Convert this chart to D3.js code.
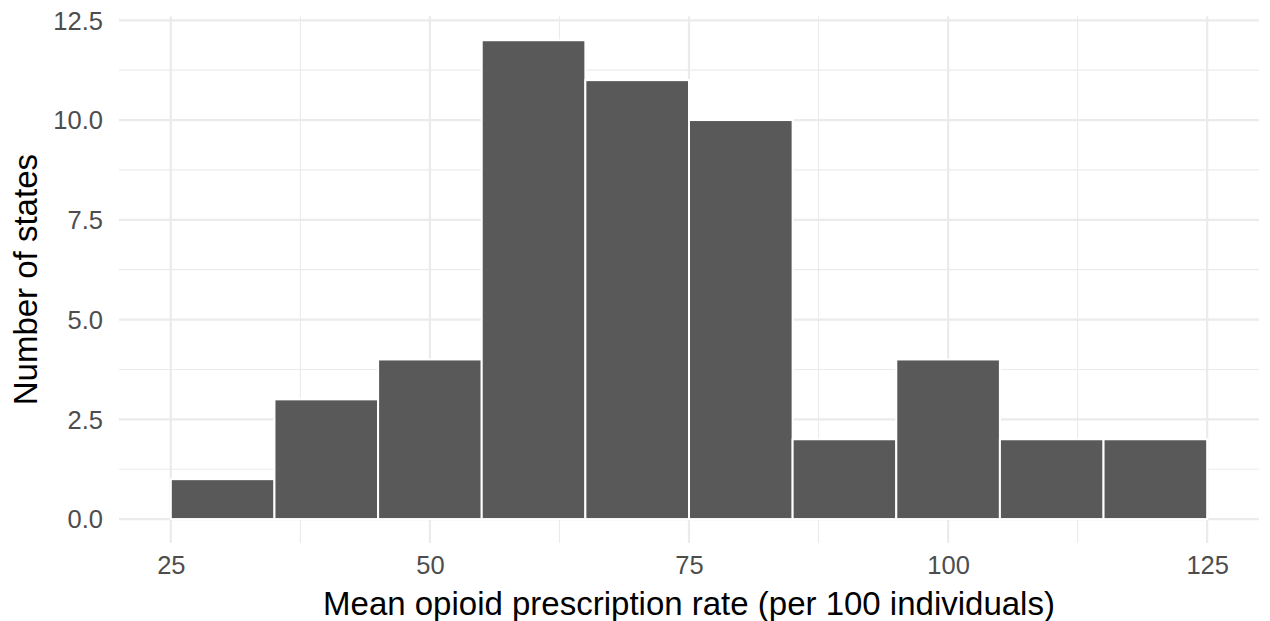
<!DOCTYPE html>
<html>
<head>
<meta charset="utf-8">
<script src="https://cdn.jsdelivr.net/npm/d3@7"></script>
<style>
  body { margin: 0; background: #fff; }
  text { font-family: "Liberation Sans", Arial, sans-serif; }
</style>
</head>
<body>
<svg id="chart" width="1270" height="621"></svg>
<script>
// Histogram bins (lower edge, upper edge) and counts
const binStarts = [25, 35, 45, 55, 65, 75, 85, 95, 105, 115];
const binEnds   = [35, 45, 55, 65, 75, 85, 95, 105, 115, 125];
const counts    = [1, 3, 4, 12, 11, 10, 2, 4, 2, 2];
const xTicks = [25, 50, 75, 100, 125];
const xMinor = [37.5, 62.5, 87.5, 112.5];
const yTicks = [0, 2.5, 5, 7.5, 10, 12.5];
const yMinor = [1.25, 3.75, 6.25, 8.75, 11.25];
const xTitle = "Mean opioid prescription rate (per 100 individuals)";
const yTitle = "Number of states";

const svg = d3.select("#chart");
const panel = { left: 119, right: 1259, top: 16.3, bottom: 543 };

const x = d3.scaleLinear().domain([20, 130]).range([panel.left, panel.right]);
const y = d3.scaleLinear().domain([-0.6, 12.6]).range([panel.bottom, panel.top]);

const grid = svg.append("g");
grid.selectAll(".ymin").data(yMinor).join("line")
  .attr("x1", panel.left).attr("x2", panel.right)
  .attr("y1", d => y(d)).attr("y2", d => y(d))
  .attr("stroke", "#EBEBEB").attr("stroke-width", 1.1);
grid.selectAll(".xmin").data(xMinor).join("line")
  .attr("y1", panel.top).attr("y2", panel.bottom)
  .attr("x1", d => x(d)).attr("x2", d => x(d))
  .attr("stroke", "#EBEBEB").attr("stroke-width", 1.1);
grid.selectAll(".ymaj").data(yTicks).join("line")
  .attr("x1", panel.left).attr("x2", panel.right)
  .attr("y1", d => y(d)).attr("y2", d => y(d))
  .attr("stroke", "#EBEBEB").attr("stroke-width", 2.2);
grid.selectAll(".xmaj").data(xTicks).join("line")
  .attr("y1", panel.top).attr("y2", panel.bottom)
  .attr("x1", d => x(d)).attr("x2", d => x(d))
  .attr("stroke", "#EBEBEB").attr("stroke-width", 2.2);

// Bars
svg.append("g").selectAll("rect").data(counts).join("rect")
  .attr("x", (d, i) => x(binStarts[i]))
  .attr("width", (d, i) => x(binEnds[i]) - x(binStarts[i]))
  .attr("y", d => y(d))
  .attr("height", d => y(0) - y(d))
  .attr("fill", "#595959")
  .attr("stroke", "#FFFFFF")
  .attr("stroke-width", 2);

// Axes (no lines, only labels)
const xAxis = d3.axisBottom(x).tickValues(xTicks).tickSize(0).tickPadding(0).tickFormat(d3.format("d"));
const gx = svg.append("g").attr("transform", `translate(0,${panel.bottom})`).call(xAxis);
gx.select(".domain").remove();
gx.selectAll("text").attr("fill", "#4D4D4D").attr("font-size", 25.5)
  .attr("font-family", "Liberation Sans, Arial, sans-serif").attr("dy", null).attr("y", 31);

const yAxis = d3.axisLeft(y).tickValues(yTicks).tickSize(0).tickPadding(0).tickFormat(d3.format(".1f"));
const gy = svg.append("g").attr("transform", `translate(${panel.left},0)`).call(yAxis);
gy.select(".domain").remove();
gy.selectAll("text").attr("fill", "#4D4D4D").attr("font-size", 25.5)
  .attr("font-family", "Liberation Sans, Arial, sans-serif").attr("x", -16).attr("dy", "0.35em");

svg.append("text")
  .attr("x", (panel.left + panel.right) / 2).attr("y", 615)
  .attr("text-anchor", "middle").attr("font-size", 33).attr("fill", "#000")
  .text(xTitle);

svg.append("text")
  .attr("transform", `translate(37,${(panel.top + panel.bottom) / 2}) rotate(-90)`)
  .attr("text-anchor", "middle").attr("font-size", 33).attr("fill", "#000")
  .text(yTitle);
</script>
</body>
</html>
